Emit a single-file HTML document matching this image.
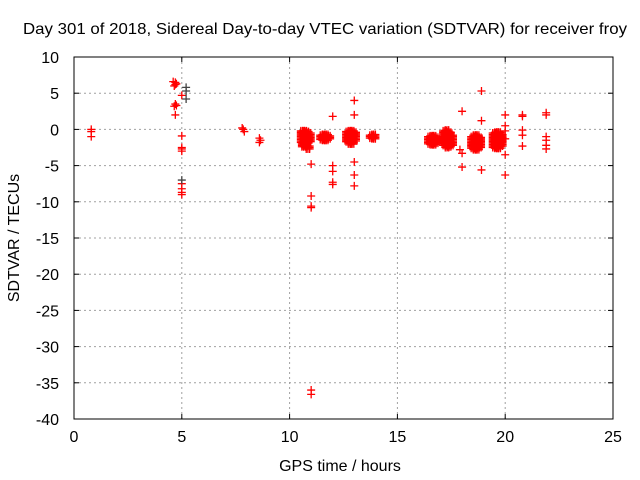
<!DOCTYPE html>
<html><head><meta charset="utf-8"><style>
body{margin:0;background:#fff;}
svg{display:block;font-family:"Liberation Sans",sans-serif;}
</style></head><body>
<svg id="c" width="640" height="480"></svg>
<script>
const xTicks=[0,5,10,15,20,25];
const yTicks=[10,5,0,-5,-10,-15,-20,-25,-30,-35,-40];
const redX=[0.8,0.8,0.8,4.7,4.7,4.65,4.75,4.7,4.65,4.75,4.7,4.6,5.0,5.0,5.0,5.0,5.0,5.0,5.0,5.0,5.0,7.8,7.85,7.9,8.6,8.65,8.6,
11.0,11.0,11.0,11.0,11.0,11.0,12.0,12.0,12.0,12.0,12.0,13.0,13.0,13.0,13.0,13.0,18.0,18.0,18.0,18.9,18.9,18.9,
20.0,20.0,20.0,20.0,20.8,20.8,20.8,20.8,20.8,21.9,21.9,21.9,21.9,21.9,21.9,17.9,20.0,20.0];
const redY=[0,-1,-0.3,6.5,6.2,6.0,6.3,3.5,3.2,3.3,2.0,6.6,4.7,-0.9,-2.5,-3.0,-7.5,-8.2,-8.7,-9.0,-2.7,0.2,0,-0.3,-1.2,-1.5,-1.8,
-4.8,-9.2,-10.6,-10.8,-36,-36.6,1.8,-5.0,-5.8,-7.3,-7.6,4.0,2.0,-4.5,-6.3,-7.8,2.5,-3.3,-5.2,5.3,1.2,-5.6,
2.0,0.5,-3.5,-6.3,2.0,1.8,-0.1,-0.8,-2.3,2.3,2.0,-1,-1.5,-2.2,-2.7,-2.8,-1.3,-0.2];
const grayX=[5.2,5.2,5.2,5.0];
const grayY=[5.8,5.3,4.2,-7.0];
const blobX=[10.6,10.7,10.8,10.9,10.65,10.85,11.5,11.6,11.7,11.8,12.7,12.8,12.9,13.0,13.8,13.9,16.5,16.6,16.7,16.8,17.2,17.3,17.4,17.5,18.5,18.6,18.7,18.8,19.5,19.6,19.7,19.8];
const blobTop=[-0.2,-0.2,-0.3,-0.5,-2.0,-2.3,-0.8,-0.7,-0.7,-0.9,-0.3,-0.2,-0.2,-0.4,-0.8,-0.7,-1.0,-0.9,-0.9,-1.1,-0.2,-0.1,-0.4,-0.8,-1.0,-0.8,-0.8,-1.1,-0.5,-0.4,-0.4,-0.7];
const blobBot=[-1.8,-2.0,-2.0,-1.8,-2.6,-2.8,-1.4,-1.5,-1.5,-1.3,-1.8,-2.0,-2.0,-1.7,-1.2,-1.3,-2.1,-2.2,-2.2,-2.0,-2.3,-2.5,-2.5,-2.2,-2.8,-3.0,-3.0,-2.7,-2.5,-2.8,-2.8,-2.4];

const L=74,R=613,T=57,B=419;
const sx=h=>L+(h-0)/(25-0)*(R-L);
const sy=v=>T+(10-v)/(50)*(B-T);
const svg=document.getElementById('c');
const NS='http://www.w3.org/2000/svg';
function mk(t,a,p){const e=document.createElementNS(NS,t);for(const k in a)e.setAttribute(k,a[k]);(p||svg).appendChild(e);return e;}
xTicks.forEach(t=>{if(t>0&&t<25){const g=mk('line',{x1:sx(t),x2:sx(t),y1:T,y2:B,stroke:'#a0a0a0','stroke-dasharray':'2,3'});

}
const l=mk('line',{x1:sx(t),x2:sx(t),y1:B,y2:B-5,stroke:'#000'});
const l2=mk('line',{x1:sx(t),x2:sx(t),y1:T,y2:T+5,stroke:'#000'});
const tx=mk('text',{x:sx(t),y:B+23,'text-anchor':'middle','font-size':16});tx.textContent=t;

});
yTicks.forEach(t=>{if(t<10&&t>-40){const g=mk('line',{x1:L,x2:R,y1:sy(t),y2:sy(t),stroke:'#a0a0a0','stroke-dasharray':'2,3'});

}
const l=mk('line',{x1:L,x2:L+5,y1:sy(t),y2:sy(t),stroke:'#000'});
const l2=mk('line',{x1:R,x2:R-5,y1:sy(t),y2:sy(t),stroke:'#000'});
const tx=mk('text',{x:L-15,y:sy(t)+6,'text-anchor':'end','font-size':16});tx.textContent=t;

});
const fr=mk('rect',{x:L,y:T,width:R-L,height:B-T,fill:'none',stroke:'#000'});


function plus(h,v,col){const x=sx(h),y=sy(v);const p=mk('path',{d:`M${x-4},${y}H${x+4}M${x},${y-4}V${y+4}`,stroke:col,'stroke-width':1.3});

}
blobX.forEach((h,i)=>{for(let v=blobTop[i];v>=blobBot[i];v-=0.2){[-0.08,0,0.08].forEach(o=>plus(h+o,v,'#f00'));}});
redX.forEach((h,i)=>plus(h,redY[i],'#f00'));
grayX.forEach((h,i)=>plus(h,grayY[i],'#444'));
const ti=mk('text',{x:325,y:34,'text-anchor':'middle','font-size':16,textLength:604,lengthAdjust:'spacingAndGlyphs'});ti.textContent='Day 301 of 2018, Sidereal Day-to-day VTEC variation (SDTVAR) for receiver froy';

const xt=mk('text',{x:340,y:471,'text-anchor':'middle','font-size':16});xt.textContent='GPS time / hours';

const yt=mk('text',{x:0,y:0,'text-anchor':'middle','font-size':16,transform:'translate(19,238) rotate(-90)'});yt.textContent='SDTVAR / TECUs';

</script>
</body></html>
